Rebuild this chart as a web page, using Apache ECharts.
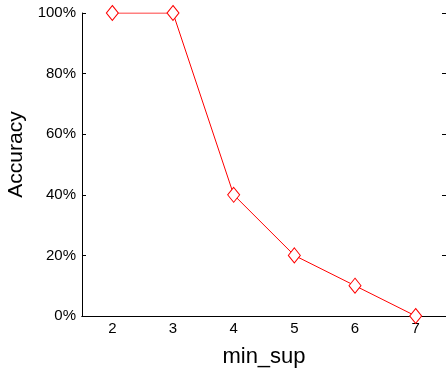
<!DOCTYPE html>
<html>
<head>
<meta charset="utf-8">
<script src="https://cdn.jsdelivr.net/npm/echarts@6/dist/echarts.min.js"></script>
<style>
  html, body { margin: 0; padding: 0; background: #fff; }
  #chart { width: 446px; height: 369px; }
</style>
</head>
<body>
<div id="chart"></div>
<script>
const minSup = ['2', '3', '4', '5', '6', '7']
const accuracy = [100, 100, 40, 20, 10, 0]
const yTicks = [0, 20, 40, 60, 80, 100]

const chart = echarts.init(document.getElementById('chart'))

const axisLine = { show: true, lineStyle: { color: '#000', width: 1 } }
const font = 'Liberation Sans, Arial, sans-serif'

chart.setOption({
  animation: false,
  grid: { left: 82, right: 0, top: 13, bottom: 53, containLabel: false, outerBoundsMode: 'none' },
  xAxis: [
    {
      type: 'category',
      data: minSup,
      boundaryGap: true,
      name: 'min_sup',
      nameLocation: 'middle',
      nameGap: 30,
      nameTextStyle: { fontSize: 22, color: '#000', fontFamily: font },
      axisLine: axisLine,
      axisTick: { inside: true, alignWithLabel: true, length: 4, lineStyle: { color: '#000' } },
      axisLabel: { fontSize: 15, color: '#000', fontFamily: font, margin: 5 },
      splitLine: { show: false }
    },
    {
      type: 'category',
      data: minSup,
      position: 'top',
      boundaryGap: true,
      axisLine: axisLine,
      axisTick: { inside: true, alignWithLabel: true, length: 4, lineStyle: { color: '#000' } },
      axisLabel: { show: false },
      splitLine: { show: false }
    }
  ],
  yAxis: [
    {
      type: 'value',
      min: yTicks[0],
      max: yTicks[yTicks.length - 1],
      interval: 20,
      name: 'Accuracy',
      nameLocation: 'middle',
      nameGap: 55,
      nameTextStyle: { fontSize: 21, color: '#000', fontFamily: font, padding: [0, 0, 0, 20] },
      axisLine: axisLine,
      axisTick: { show: true, inside: true, length: 4, lineStyle: { color: '#000' } },
      axisLabel: { fontSize: 15, color: '#000', fontFamily: font, margin: 6, formatter: '{value}%' },
      splitLine: { show: false }
    },
    {
      type: 'value',
      position: 'right',
      min: yTicks[0],
      max: yTicks[yTicks.length - 1],
      interval: 20,
      axisLine: axisLine,
      axisTick: { show: true, inside: true, length: 4, lineStyle: { color: '#000' } },
      axisLabel: { show: false },
      splitLine: { show: false }
    }
  ],
  series: [
    {
      type: 'line',
      data: accuracy,
      symbol: 'diamond',
      symbolSize: [12, 15],
      itemStyle: { color: '#fff', borderColor: '#ff0000', borderWidth: 1 },
      lineStyle: { color: '#ff0000', width: 1 }
    }
  ]
})
</script>
</body>
</html>
